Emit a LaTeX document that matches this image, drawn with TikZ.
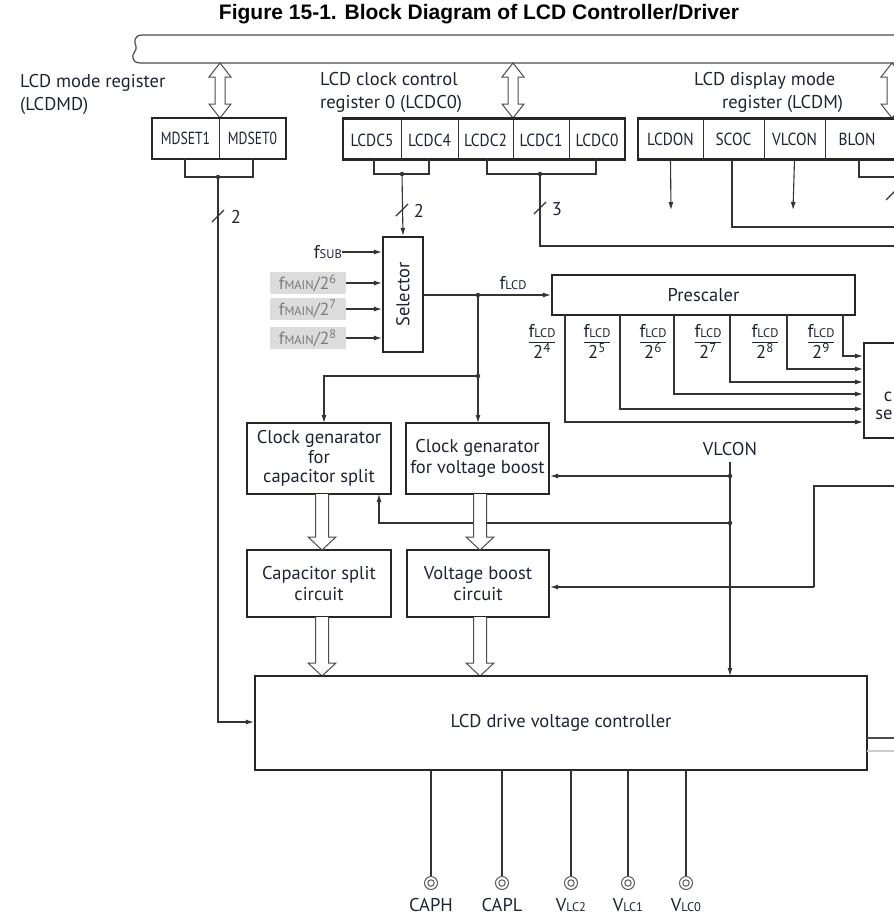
\documentclass[tikz,border=0pt]{standalone}
\usepackage{fontspec}
\setmainfont{PT Sans}
\newfontfamily\titlefont{Liberation Sans}
\newfontfamily\narrowfont[FakeStretch=0.78]{PT Sans}
\newfontfamily\semifont[FakeStretch=0.88]{PT Sans}
\usetikzlibrary{arrows.meta}
\definecolor{linec}{HTML}{333333}
\definecolor{boxc}{HTML}{262626}
\definecolor{txtc}{HTML}{1F2333}
\definecolor{graytxt}{HTML}{7A7A7A}
\definecolor{grayfill}{HTML}{DCDCDC}
\newcommand\smtxt[1]{{\fontsize{12.5}{12.5}\selectfont #1}}
\newcommand\flcdfrac[1]{{\setlength\arrayrulewidth{1pt}\renewcommand\arraystretch{0.95}\begin{tabular}{@{}c@{}}f\smtxt{LCD}\\[-1pt]\hline\rule{0pt}{15pt}2\textsuperscript{#1}\end{tabular}}}
\newcommand\hollowdown[3]{\draw[hol] (#1-6.5,#2) -- (#1-6.5,#3-13) -- (#1-14,#3-13) -- (#1,#3) -- (#1+14,#3-13) -- (#1+6.5,#3-13) -- (#1+6.5,#2);}
\newcommand\hollowboth[3]{\draw[hol] (#1,#2) -- (#1+11,#2+14) -- (#1+5,#2+14) -- (#1+5,#3-14) -- (#1+11,#3-14) -- (#1,#3) -- (#1-11,#3-14) -- (#1-5,#3-14) -- (#1-5,#2+14) -- (#1-11,#2+14) -- cycle;}
\begin{document}
\begin{tikzpicture}[x=1pt,y=-1pt,
 wire/.style={draw=linec, line width=1.1pt},
 arr/.style={wire, -{Latex[length=8pt,width=5pt]}},
 boxs/.style={draw=boxc, line width=2.3pt, fill=white, text=txtc, align=center, inner sep=0pt, font=\fontsize{18.5}{20.5}\selectfont},
 cell/.style={inner sep=0pt, minimum height=41, text=txtc, font=\semifont\fontsize{17.5}{17.5}\selectfont},
 regbox/.style={draw=boxc, line width=2.3pt},
 lbl/.style={text=txtc, inner sep=0pt, font=\fontsize{18.5}{20.5}\selectfont},
 graylbl/.style={fill=grayfill, text=graytxt, inner sep=0pt, minimum width=76, minimum height=22, font=\fontsize{17.5}{18}\selectfont},
 hol/.style={draw=gray!60!black, line width=1pt, fill=white, line join=miter},
 dotc/.style={circle, fill=linec, inner sep=0pt, minimum size=4.5pt},
 pin/.style={circle, draw=gray!70!black, line width=1pt, fill=white, minimum size=13, inner sep=0pt},
 slash/.style={draw=linec, line width=1.1pt},
]
\useasboundingbox (0,0) rectangle (894,919);
\clip (0,0) rectangle (894,919);

% title
\node[font=\titlefont\bfseries\fontsize{21}{24}\selectfont] (title) at (479,14) {Figure 15-1. Block Diagram of LCD Controller/Driver};

% bus
\draw[draw=gray!60!black, line width=1.2pt] (900,35) -- (141,35) .. controls (134,36) and (134,42) .. (136,46) .. controls (138,50) and (131,54) .. (133,58) .. controls (134,62) and (137,63) .. (141,63) -- (900,63);

\hollowboth{220}{63}{118}
\hollowboth{513}{63}{118}
\hollowboth{892}{63}{118}

% register labels
\node[lbl, anchor=base west] (lmd1) at (20,87) {LCD mode register};
\node[lbl, anchor=base west] (lmd2) at (20,110) {(LCDMD)};
\node[lbl, anchor=base west] (lc01) at (320,85) {LCD clock control};
\node[lbl, anchor=base west] (lc02) at (320,108) {register 0 (LCDC0)};
\node[lbl, anchor=base west] (lm1) at (694,85) {LCD display mode};
\node[lbl, anchor=base west] (lm2) at (722,108) {register (LCDM)};

% LCDMD register
\node[cell, minimum width=67, font=\narrowfont\fontsize{17.5}{17.5}\selectfont] (md1) at (185.5,138.5) {MDSET1};
\node[cell, minimum width=67, font=\narrowfont\fontsize{17.5}{17.5}\selectfont] (md0) at (252.5,138.5) {MDSET0};
\draw[wire] (md1.north east) -- (md1.south east);
\draw[regbox] (md1.north west) rectangle (md0.south east);

% LCDC0 register
\node[cell, minimum width=58] (c5) at (372,140) {LCDC5};
\node[cell, minimum width=57] (c4) at (429.5,140) {LCDC4};
\node[cell, minimum width=55] (c2) at (485.5,140) {LCDC2};
\node[cell, minimum width=56] (c1) at (541,140) {LCDC1};
\node[cell, minimum width=56] (c0) at (597,140) {LCDC0};
\foreach \c in {c5,c4,c2,c1} \draw[wire] (\c.north east) -- (\c.south east);
\draw[regbox] (343,118.5) rectangle (625,159.5);

% LCDM register
\node[cell, minimum width=65] (mon) at (670.5,139) {LCDON};
\node[cell, minimum width=61] (msc) at (733.5,139) {SCOC};
\node[cell, minimum width=61] (mvl) at (794.5,139) {VLCON};
\node[cell, minimum width=64] (mbl) at (857,139) {BLON};
\foreach \c in {mon,msc,mvl} \draw[wire] (\c.north east) -- (\c.south east);
\draw[regbox] (900,118.5) -- (638,118.5) -- (638,159.5) -- (900,159.5);

% brackets
\coordinate (jmd) at (218,177);
\draw[wire] (185,159) -- (185,177) -- (253,177) -- (253,159);
\node[dotc] (dmd) at (jmd) {};
\coordinate (jc54) at (402,174);
\draw[wire] (374,159) -- (374,174) -- (429,174) -- (429,159);
\node[dotc] (dc54) at (jc54) {};
\coordinate (jc210) at (540,174);
\draw[wire] (487,159) -- (487,174) -- (596,174) -- (596,159);
\node[dotc] (dc210) at (jc210) {};

% slashes with widths
\draw[slash] (212,222) -- (224,210);
\node[lbl] (n2a) at (236,217) {2};
\draw[slash] (396,216) -- (408,204);
\node[lbl] (n2b) at (419,211) {2};
\draw[slash] (534,214) -- (546,202);
\node[lbl] (n3) at (557,209) {3};

% LCDM outputs
\draw[arr] (mon.south) -- (671,210);
\draw[arr] (mvl.south) -- (793,210);
\draw[wire] (732,160) -- (732,227) -- (900,227);
\draw[wire] (859,160) -- (859,177) -- (900,177);
\draw[slash] (886,200) -- (898,188);
\draw[wire] (dc210) -- (540,246) -- (900,246);

% selector
\node[boxs, minimum width=40, minimum height=115] (sel) at (403,294.5) {};
\node[lbl, rotate=90] (seltxt) at (sel.center) {Selector};
\draw[arr] (dc54) -- (sel.north);
\node[lbl, anchor=east] (fsub) at (342,252) {f\smtxt{SUB}};
\draw[arr] (fsub.east) -- (fsub.east -| sel.west);
\node[graylbl, anchor=east] (fm6) at (346,283) {f\smtxt{MAIN}/2\textsuperscript{6}};
\node[graylbl, anchor=east] (fm7) at (346,309) {f\smtxt{MAIN}/2\textsuperscript{7}};
\node[graylbl, anchor=east] (fm8) at (346,338) {f\smtxt{MAIN}/2\textsuperscript{8}};
\foreach \g in {fm6,fm7,fm8} \draw[arr] (\g.east) -- (\g.east -| sel.west);

% prescaler
\node[boxs, minimum width=303, minimum height=40] (pre) at (703.5,295) {Prescaler};
\draw[arr] (sel.east |- pre.west) -- (pre.west);
\node[dotc] (dsel) at (478,295) {};
\node[lbl] (flcd) at (513,283) {f\smtxt{LCD}};

% clock selector (partly shown)
\node[boxs, minimum width=60, minimum height=95, anchor=north west] (csel) at (863,342) {};
\node[lbl] (cselc) at (888,397) {c};
\node[lbl] (cselse) at (884,415) {se};
\foreach \px/\py in {565/422,620/409,674/394,730/382,787/369,843/356}
  \draw[arr] (\px,315) -- (\px,\py) -- (csel.west |- 0,\py);
\foreach \fx/\fn in {542/4,597/5,653/6,708/7,765/8,821/9}
  \node[lbl] (fr\fn) at (\fx,344) {\flcdfrac{\fn}};

% clock generators
\node[boxs, minimum width=144, minimum height=71, font=\fontsize{18.5}{19.5}\selectfont] (cgc) at (319,458.5) {Clock genarator\\for\\capacitor split};
\node[boxs, minimum width=143, minimum height=71] (cgv) at (477.5,458.5) {Clock genarator\\for voltage boost};
\node[dotc] (dsplit) at (478,376) {};
\draw[wire] (dsel) -- (dsplit);
\draw[arr] (dsplit) -- (324,376) -- (324,423);
\draw[arr] (dsplit) -- (478,423);

% VLCON
\node[lbl] (vlcon) at (730,449) {VLCON};
\node[dotc] (dv1) at (730,476) {};
\node[dotc] (dv2) at (730,523) {};
\draw[wire] (730,462) -- (dv1);
\draw[arr] (dv1) -- (cgv.east |- dv1);
\draw[arr] (dv2) -- (379,523) -- (379,494);

% circuits
\node[boxs, minimum width=144, minimum height=67] (csc) at (319,583.5) {Capacitor split\\circuit};
\node[boxs, minimum width=142, minimum height=67] (vbc) at (478,583.5) {Voltage boost\\circuit};
\draw[wire] (900,486) -- (814,486) -- (814,587);
\draw[arr] (814,587) -- (vbc.east |- 0,587);

\hollowdown{322}{494}{550}
\hollowdown{480}{494}{550}
\hollowdown{322}{617}{676}
\hollowdown{480}{617}{676}

% LCD drive voltage controller
\node[boxs, minimum width=612, minimum height=94] (drv) at (561,723) {LCD drive voltage controller};
\draw[wire] (dv1) -- (dv2);
\draw[arr] (dv2) -- (730,676);
\draw[arr] (dmd) -- (218,722) -- (drv.west |- 0,722);
\draw[draw=gray!60!black, line width=1.1pt] (867,738) -- (900,738);
\draw[draw=gray!40, line width=1.1pt] (867,751) -- (900,751);

% pins
\foreach \i/\x/\t in {1/431/CAPH,2/502/CAPL,3/571/{V\smtxt{LC2}},4/628/{V\smtxt{LC1}},5/686/{V\smtxt{LC0}}}{
  \node[pin] (p\i) at (\x,883) {};
  \draw[draw=gray!70!black, line width=1pt] (p\i.center) circle (3.2);
  \draw[wire] (\x,770) -- (p\i.north);
  \node[lbl] (t\i) at (\x,905) {\t};
}
\end{tikzpicture}
\end{document}
